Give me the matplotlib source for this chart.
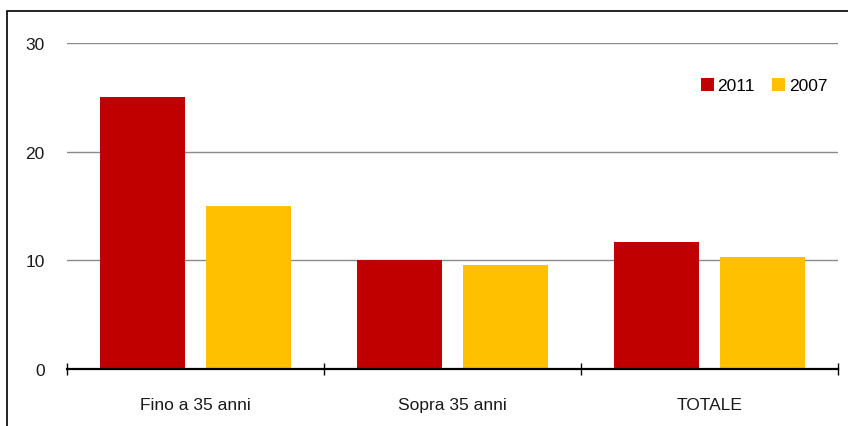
import matplotlib.pyplot as plt
import numpy as np
from matplotlib.patches import Rectangle

categories = ["Fino a 35 anni", "Sopra 35 anni", "TOTALE"]
series_names = ["2011", "2007"]
values_2011 = [25.0, 10.0, 11.7]
values_2007 = [15.0, 9.6, 10.3]
colors = ["#C00000", "#FFC000"]

plt.rcParams['font.family'] = ['Liberation Sans', 'DejaVu Sans']

fig = plt.figure(figsize=(8.48, 4.27), dpi=100)
# outer frame (only left and top edges show in the original)
fig.patches.append(Rectangle((7 / 848, -0.1), 1.2, (427 - 12) / 427 + 0.1,
                             transform=fig.transFigure, fill=False,
                             edgecolor="black", linewidth=1.2))

ax = fig.add_axes([67 / 848, 57 / 427, 771 / 848, 326 / 427])

x = np.arange(len(categories))
width = 0.33
gap = 0.082
ax.bar(x - (width + gap) / 2, values_2011, width, color=colors[0], label=series_names[0], zorder=3)
ax.bar(x + (width + gap) / 2, values_2007, width, color=colors[1], label=series_names[1], zorder=3)

ax.set_xlim(-0.5, len(categories) - 0.5)
ax.set_ylim(0, 30)
ax.set_yticks([0, 10, 20, 30])
ax.yaxis.grid(True, color="#8a8a8a", linewidth=1)
ax.set_axisbelow(True)

for side in ["left", "right", "top"]:
    ax.spines[side].set_visible(False)
ax.spines["bottom"].set_linewidth(1.6)
ax.spines["bottom"].set_zorder(4)

ax.set_xticks(np.arange(len(categories) + 1) - 0.5)
ax.set_xticklabels([])
ax.tick_params(axis="x", which="major", direction="inout", length=9, width=1)
ax.set_xticks(x, minor=True)
ax.set_xticklabels(categories, minor=True, fontsize=12.5, color="#1a1a1a")
ax.tick_params(axis="x", which="minor", length=0, pad=20)
ax.tick_params(axis="y", length=0, pad=16, labelsize=12.5, labelcolor="#1a1a1a")

ax.legend(loc="upper right", bbox_to_anchor=(0.986, 0.893), ncol=2, frameon=False,
          fontsize=12.5, handlelength=0.75, handleheight=0.75, handletextpad=0.2,
          columnspacing=1.0, borderpad=0, borderaxespad=0)

fig.savefig("out.png", dpi=100)
